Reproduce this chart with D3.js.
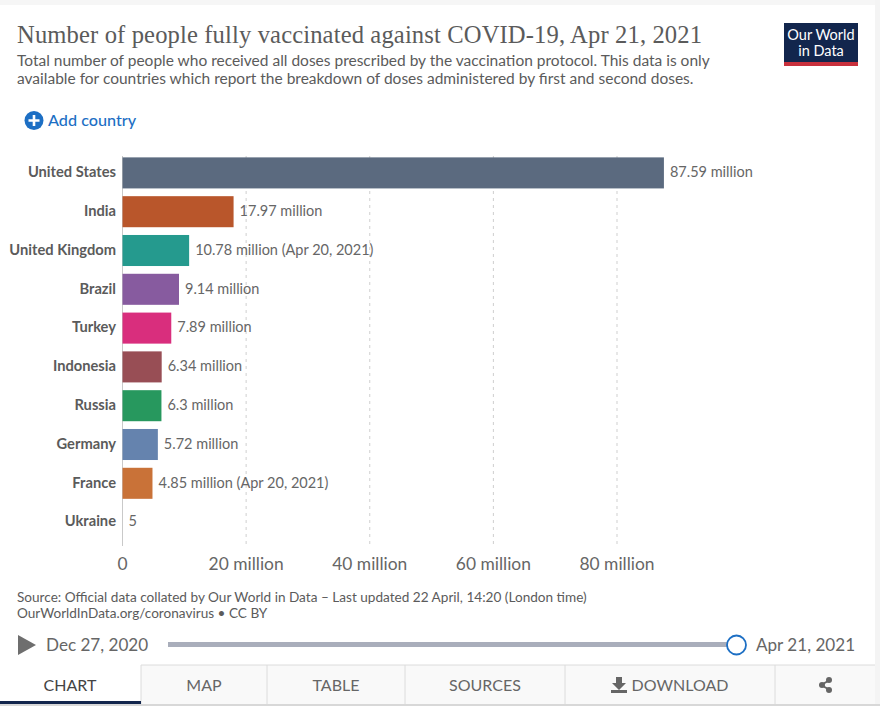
<!DOCTYPE html>
<html><head><meta charset="utf-8">
<script src="https://cdn.jsdelivr.net/npm/d3@7/dist/d3.min.js"></script>
<style>html,body{margin:0;padding:0;background:#fff;overflow:hidden}svg{display:block}text{font-family:Lato,sans-serif}</style>
</head><body><svg id="c" width="880" height="706"></svg>
<script>
const countries = ["United States","India","United Kingdom","Brazil","Turkey","Indonesia","Russia","Germany","France","Ukraine"];
const values = [87.59,17.97,10.78,9.14,7.89,6.34,6.3,5.72,4.85,0.000005];
const valueLabels = ["87.59 million","17.97 million","10.78 million (Apr 20, 2021)","9.14 million","7.89 million","6.34 million","6.3 million","5.72 million","4.85 million (Apr 20, 2021)","5"];
const barColors = ["#5b6a7f","#b9562b","#259a8e","#875b9f","#d92e7d","#984e55","#27985e","#6583ae","#c97238","#999999"];
const xTicks = [0,20,40,60,80];
const xTickLabels = ["0","20 million","40 million","60 million","80 million"];
const tabs = ["CHART","MAP","TABLE","SOURCES","DOWNLOAD"];
const tabEdges = [0,141,267,405,565,775,875];

const svg = d3.select("#c");
const x = d3.scaleLinear().domain([0,80]).range([122.5,617]);
const y = d3.scaleBand().domain(countries).range([153.5,541.5]).paddingInner(0.2).paddingOuter(0.1);

// page frame
svg.append("rect").attr("width",880).attr("height",5).attr("fill","#f6f6f6");
svg.append("rect").attr("x",875).attr("width",5).attr("height",706).attr("fill","#f4f4f4");

// header
svg.append("text").attr("x",17).attr("y",43).attr("font-size",24.6).attr("fill","#5b5b5b")
  .style("font-family","'Liberation Serif',serif").attr("textLength",685).attr("lengthAdjust","spacing")
  .text("Number of people fully vaccinated against COVID-19, Apr 21, 2021");
const sub = ["Total number of people who received all doses prescribed by the vaccination protocol. This data is only","available for countries which report the breakdown of doses administered by first and second doses."];
svg.selectAll(".sub").data(sub).join("text").attr("class","sub").attr("x",17).attr("y",(d,i)=>65.5+i*18.5)
  .attr("font-size",15.5).attr("fill","#5b5b5b").text(d=>d);

// logo
svg.append("rect").attr("x",784).attr("y",23).attr("width",74).attr("height",43).attr("fill","#12264d");
svg.append("rect").attr("x",784).attr("y",62).attr("width",74).attr("height",4).attr("fill","#c8303c");
["Our World","in Data"].forEach((t,i)=>svg.append("text").attr("x",821).attr("y",40+i*16).attr("text-anchor","middle")
  .attr("font-size",14.5).attr("fill","#fff").text(t));

// add country
svg.append("circle").attr("cx",34).attr("cy",120.5).attr("r",9.5).attr("fill","#1d6fc4");
svg.append("path").attr("d","M34 115V126M28.5 120.5H39.5").attr("stroke","#fff").attr("stroke-width",2.6);
svg.append("text").attr("x",48).attr("y",125.5).attr("font-size",16.2).attr("font-weight",500).attr("fill","#1d6fc4").text("Add country");

// grid
svg.append("g").selectAll("line").data(xTicks.slice(1)).join("line")
  .attr("x1",d=>x(d)).attr("x2",d=>x(d)).attr("y1",156).attr("y2",546)
  .attr("stroke","#cfcfcf").attr("stroke-dasharray","3,4");
svg.append("line").attr("x1",x(0)).attr("x2",x(0)).attr("y1",156).attr("y2",546).attr("stroke","#c9c9c9").attr("stroke-width",1);

// bars
svg.append("g").selectAll("rect").data(countries).join("rect")
  .attr("x",x(0)).attr("y",d=>y(d)).attr("height",y.bandwidth())
  .attr("width",(d,i)=>x(values[i])-x(0)).attr("fill",(d,i)=>barColors[i]);
svg.append("g").selectAll("text").data(countries).join("text")
  .attr("x",116).attr("y",d=>y(d)+y.bandwidth()/2+4.2).attr("text-anchor","end")
  .attr("font-size",14.7).attr("font-weight",700).attr("fill","#5b5b5b").text(d=>d);
svg.append("g").selectAll("text").data(valueLabels).join("text")
  .attr("x",(d,i)=>x(values[i])+6).attr("y",(d,i)=>y(countries[i])+y.bandwidth()/2+4.2)
  .attr("font-size",14.5).attr("fill","#666").text(d=>d);

// x labels
svg.append("g").selectAll("text").data(xTicks).join("text")
  .attr("x",d=>x(d)).attr("y",570).attr("text-anchor","middle")
  .attr("font-size",17.4).attr("fill","#666").text((d,i)=>xTickLabels[i]);

// source
["Source: Official data collated by Our World in Data – Last updated 22 April, 14:20 (London time)","OurWorldInData.org/coronavirus • CC BY"]
 .forEach((t,i)=>svg.append("text").attr("x",17).attr("y",602+i*15.5).attr("font-size",13.6).attr("fill","#5b5b5b").text(t));

// timeline
svg.append("path").attr("d","M18 635L36 645L18 655Z").attr("fill","#6e6e6e");
svg.append("text").attr("x",46).attr("y",651).attr("font-size",17.1).attr("fill","#666").text("Dec 27, 2020");
svg.append("text").attr("x",756).attr("y",651).attr("font-size",17.1).attr("fill","#666").text("Apr 21, 2021");
svg.append("rect").attr("x",168).attr("y",642).attr("width",568).attr("height",5).attr("fill","#a9aebb");
svg.append("circle").attr("cx",736.5).attr("cy",645).attr("r",9.5).attr("fill","#fff").attr("stroke","#1d6fc4").attr("stroke-width",1.8);

// tabs
svg.append("rect").attr("x",141).attr("y",665).attr("width",734).attr("height",41).attr("fill","#f9f9f9");
svg.append("line").attr("x1",141).attr("x2",875).attr("y1",665).attr("y2",665).attr("stroke","#dcdcdc");
tabEdges.slice(1,6).forEach(e=>svg.append("line").attr("x1",e).attr("x2",e).attr("y1",665).attr("y2",706).attr("stroke","#dcdcdc"));
const tabX=[70,204,336,485,680];
tabs.forEach((t,i)=>svg.append("text").attr("x",tabX[i]).attr("y",691).attr("text-anchor","middle")
  .attr("font-size",16).attr("fill",i==0?"#444":"#666").text(t));
svg.append("rect").attr("x",0).attr("y",701).attr("width",141).attr("height",3).attr("fill","#12264d");
svg.append("rect").attr("x",0).attr("y",704).attr("width",880).attr("height",2).attr("fill","#d8d8d8");
// download icon
svg.append("path").attr("d","M616 677H622V683H626L619 690L612 683H616ZM611 690H627V693H611Z").attr("fill","#666");
// share icon
svg.append("path").attr("d","M830 680L821 685L830 690").attr("fill","none").attr("stroke","#666").attr("stroke-width",2);
[[829,680],[822,685],[829,690]].forEach(p=>svg.append("circle").attr("cx",p[0]).attr("cy",p[1]).attr("r",3).attr("fill","#666"));
</script></body></html>
